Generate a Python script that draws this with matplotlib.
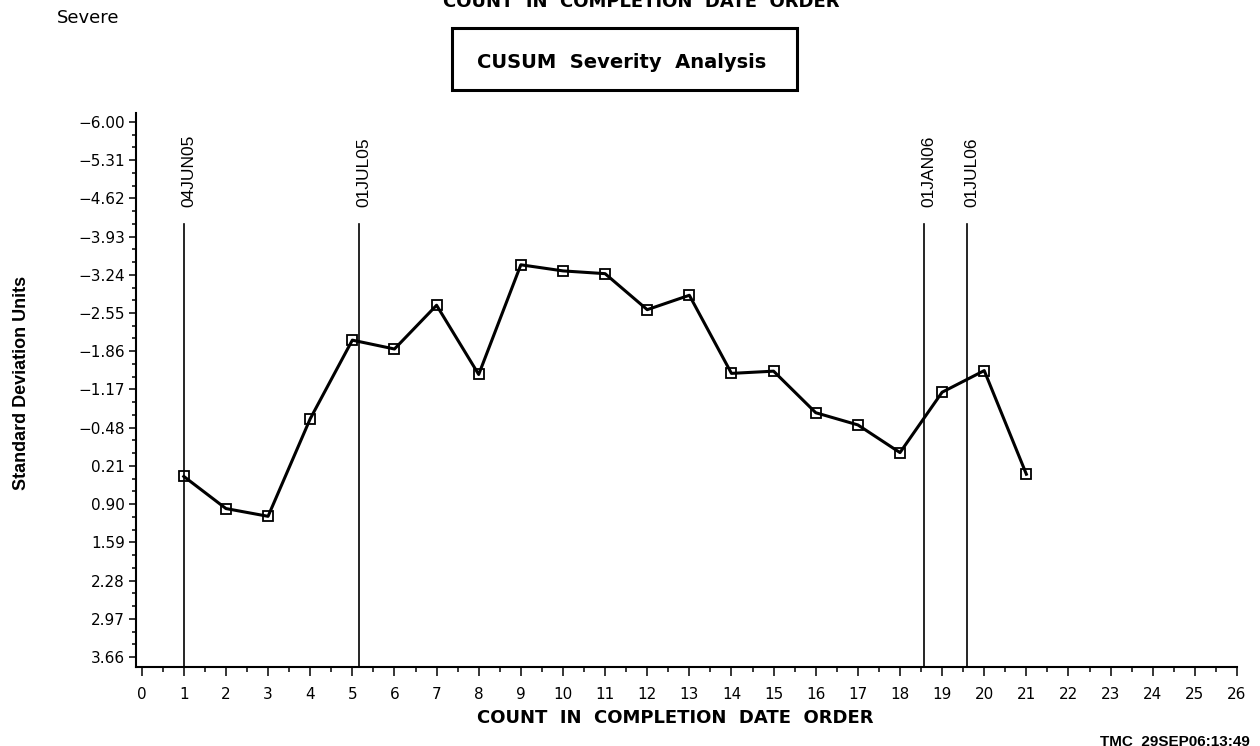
import numpy as np
import matplotlib
matplotlib.use('Agg')
import matplotlib.pyplot as plt
from matplotlib.ticker import FixedLocator, FixedFormatter, MultipleLocator
from matplotlib.patches import Rectangle

# observations in completion date order
obs = list(range(1, 22))
cusum = [0.40, 0.98, 1.12, -0.64, -2.06, -1.90, -2.69, -1.44, -3.42, -3.31, -3.26,
         -2.61, -2.87, -1.46, -1.50, -0.75, -0.53, -0.03, -1.12, -1.51, 0.36]

# date reference lines
ref_pos = [1.0, 5.16, 18.56, 19.59]
ref_labels = ['04JUN05', '01JUL05', '01JAN06', '01JUL06']
ref_top = -4.16

ytick_vals = [-6.00, -5.31, -4.62, -3.93, -3.24, -2.55, -1.86, -1.17, -0.48,
              0.21, 0.90, 1.59, 2.28, 2.97, 3.66]
ytick_labels = ['\u22126.00', '\u22125.31', '\u22124.62', '\u22123.93', '\u22123.24',
                '\u22122.55', '\u22121.86', '\u22121.17', '\u22120.48',
                '0.21', '0.90', '1.59', '2.28', '2.97', '3.66']
xtick_vals = list(range(0, 27))

ylo, yhi = 3.84, -6.16

fig = plt.figure(figsize=(12.6, 7.46), dpi=100)
ax = fig.add_axes([136 / 1260, 1 - 667 / 746, (1237 - 136) / 1260, (667 - 113) / 746])

ax.plot(obs, cusum, color='black', lw=2.2, marker='s', ms=6.5, mfc='none',
        mec='black', mew=1.3, zorder=3)

for pos, lab in zip(ref_pos, ref_labels):
    ax.plot([pos, pos], [ylo, ref_top], color='black', lw=1.2, zorder=2)
    ax.text(pos + 0.12, -4.47, lab, rotation=90, ha='center', va='bottom',
            fontsize=12.5, family='Liberation Sans')

ax.set_xlim(-0.135, 26.0)
ax.set_ylim(ylo, yhi)

ax.yaxis.set_major_locator(FixedLocator(ytick_vals))
ax.yaxis.set_major_formatter(FixedFormatter(ytick_labels))
ax.yaxis.set_minor_locator(FixedLocator(
    [v + d for v in ytick_vals[:-1] for d in (0.23, 0.46)]))
ax.xaxis.set_major_locator(FixedLocator(xtick_vals))
ax.xaxis.set_minor_locator(MultipleLocator(0.5))

ax.tick_params(axis='y', which='major', length=5, width=1.1, labelsize=11, pad=3)
ax.tick_params(axis='y', which='minor', length=3, width=1.1)
ax.tick_params(axis='x', which='major', length=6.5, width=1.1, labelsize=11, pad=8)
ax.tick_params(axis='x', which='minor', length=3.6, width=1.1)

for s in ['top', 'right']:
    ax.spines[s].set_visible(False)
for s in ['left', 'bottom']:
    ax.spines[s].set_linewidth(1.5)

ax.set_ylabel('Standard Deviation Units', fontsize=13, fontweight='bold',
              family='Liberation Sans')
ax.yaxis.set_label_coords(30 / 1260, 1 - 383 / 746, transform=fig.transFigure)

fig.text(675 / 1260, 1 - 718 / 746, 'COUNT  IN  COMPLETION  DATE  ORDER', ha='center',
         va='center', fontsize=13, fontweight='bold', family='DejaVu Sans')
fig.text(641 / 1260, 1 - 2 / 746, 'COUNT  IN  COMPLETION  DATE  ORDER', ha='center',
         va='center', fontsize=13, fontweight='bold', family='DejaVu Sans')
fig.text(57 / 1260, 1 - 18 / 746, 'Severe', ha='left', va='center', fontsize=13)

fig.patches.append(Rectangle((452 / 1260, 1 - 90 / 746), (797 - 452) / 1260, 62 / 746,
                             transform=fig.transFigure, fill=False, lw=2.2,
                             edgecolor='black'))
fig.text(622 / 1260, 1 - 62 / 746, 'CUSUM  Severity  Analysis', ha='center', va='center',
         fontsize=14, fontweight='bold', family='DejaVu Sans')

fig.text(1250 / 1260, 1 - 742 / 746, 'TMC  29SEP06:13:49', ha='right', va='center',
         fontsize=11, fontweight='bold', family='Liberation Sans')

fig.savefig('out.png', dpi=100)
